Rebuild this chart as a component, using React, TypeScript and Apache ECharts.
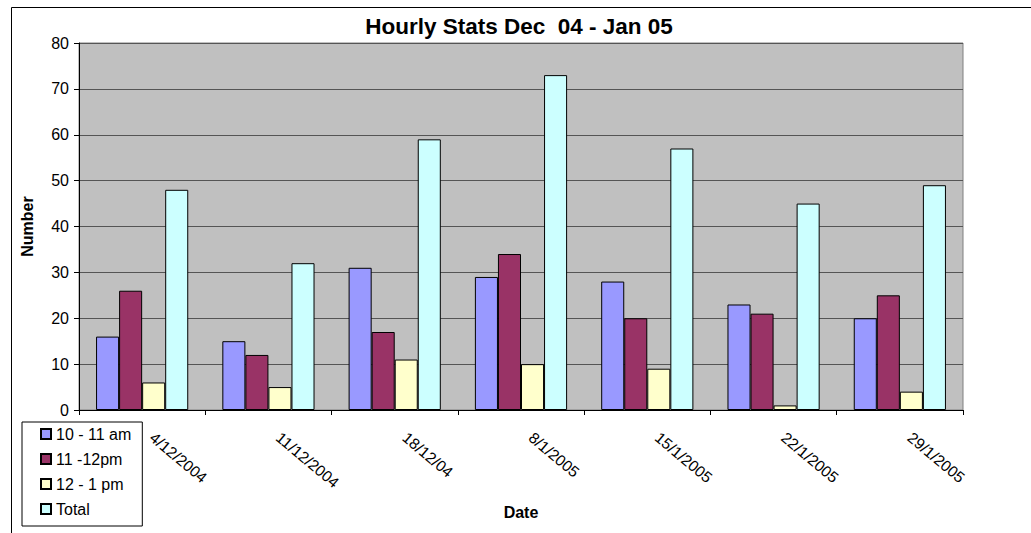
import React, { useEffect, useRef } from "react";
import * as echarts from "echarts";

const categories = ["4/12/2004", "11/12/2004", "18/12/04", "8/1/2005", "15/1/2005", "22/1/2005", "29/1/2005"];
const am10to11 = [16, 15, 31, 29, 28, 23, 20];
const am11to12 = [26, 12, 17, 34, 20, 21, 25];
const pm12to1 = [6, 5, 11, 10, 9, 1, 4];
const total = [48, 32, 59, 73, 57, 45, 49];
const yTicks = { min: 0, max: 80, interval: 10 };

const FONT = "'Liberation Sans', Arial, sans-serif";

export default function App() {
  const ref = useRef<HTMLDivElement>(null);
  useEffect(() => {
    if (!ref.current) return;
    const chart = echarts.init(ref.current, null, { renderer: "svg" });
    const mk = (name: string, data: number[], color: string) => ({
      name,
      type: "bar",
      data,
      barGap: "0%",
      barCategoryGap: "27%",
      itemStyle: { color, borderColor: "#000", borderWidth: 1 },
    });
    chart.setOption({
      animation: false,
      backgroundColor: "#fff",
      textStyle: { fontFamily: FONT },
      title: {
        text: "Hourly Stats Dec  04 - Jan 05",
        left: 519,
        textAlign: "center",
        top: 15,
        padding: 0,
        textStyle: { fontFamily: FONT, fontSize: 22.5, fontWeight: "bold", color: "#000" },
      },
      legend: {
        orient: "vertical",
        left: 22,
        top: 422,
        padding: [4, 11, 9, 18],
        itemGap: 9,
        itemWidth: 10,
        itemHeight: 10,
        borderColor: "#000",
        borderWidth: 1,
        icon: "rect",
        textStyle: { fontFamily: FONT, fontSize: 16, color: "#000", lineHeight: 16 },
      },
      grid: {
        left: 79,
        right: 68,
        top: 43,
        bottom: 123,
        show: true,
        backgroundColor: "#C0C0C0",
        borderColor: "#808080",
        borderWidth: 1,
      },
      xAxis: {
        type: "category",
        data: categories,
        name: "Date",
        nameLocation: "middle",
        nameGap: 94,
        nameTextStyle: { fontFamily: FONT, fontSize: 16, fontWeight: "bold", color: "#000", verticalAlign: "top" },
        axisLine: { lineStyle: { color: "#000", width: 1 } },
        axisTick: { show: true, length: 5, alignWithLabel: false, lineStyle: { color: "#000" } },
        axisLabel: {
          rotate: -40,
          margin: 17,
          padding: [0, 0, 0, 13],
          interval: 0,
          fontFamily: FONT,
          fontSize: 15.5,
          color: "#000",
        },
        splitLine: { show: false },
      },
      yAxis: {
        type: "value",
        min: yTicks.min,
        max: yTicks.max,
        interval: yTicks.interval,
        name: "Number",
        nameLocation: "middle",
        nameRotate: 90,
        nameGap: 44,
        nameTextStyle: { fontFamily: FONT, fontSize: 16, fontWeight: "bold", color: "#000" },
        axisLine: { show: true, lineStyle: { color: "#000", width: 1 } },
        axisTick: { show: true, length: 5, lineStyle: { color: "#000" } },
        axisLabel: { margin: 10, fontFamily: FONT, fontSize: 16, color: "#000" },
        splitLine: { show: true, lineStyle: { color: "#555", width: 1 } },
      },
      graphic: [
        {
          type: "rect",
          shape: { x: 11.5, y: 7.5, width: 1100, height: 600 },
          style: { fill: "none", stroke: "#000", lineWidth: 1 },
          silent: true,
        },
      ],
      series: [
        mk("10 - 11 am", am10to11, "#9999FF"),
        mk("11 -12pm", am11to12, "#993366"),
        mk("12 - 1 pm", pm12to1, "#FFFFCC"),
        mk("Total", total, "#CCFFFF"),
      ],
    });
    return () => chart.dispose();
  }, []);
  return <div ref={ref} style={{ position: "fixed", left: 0, top: 0, width: 1031, height: 533 }} />;
}
